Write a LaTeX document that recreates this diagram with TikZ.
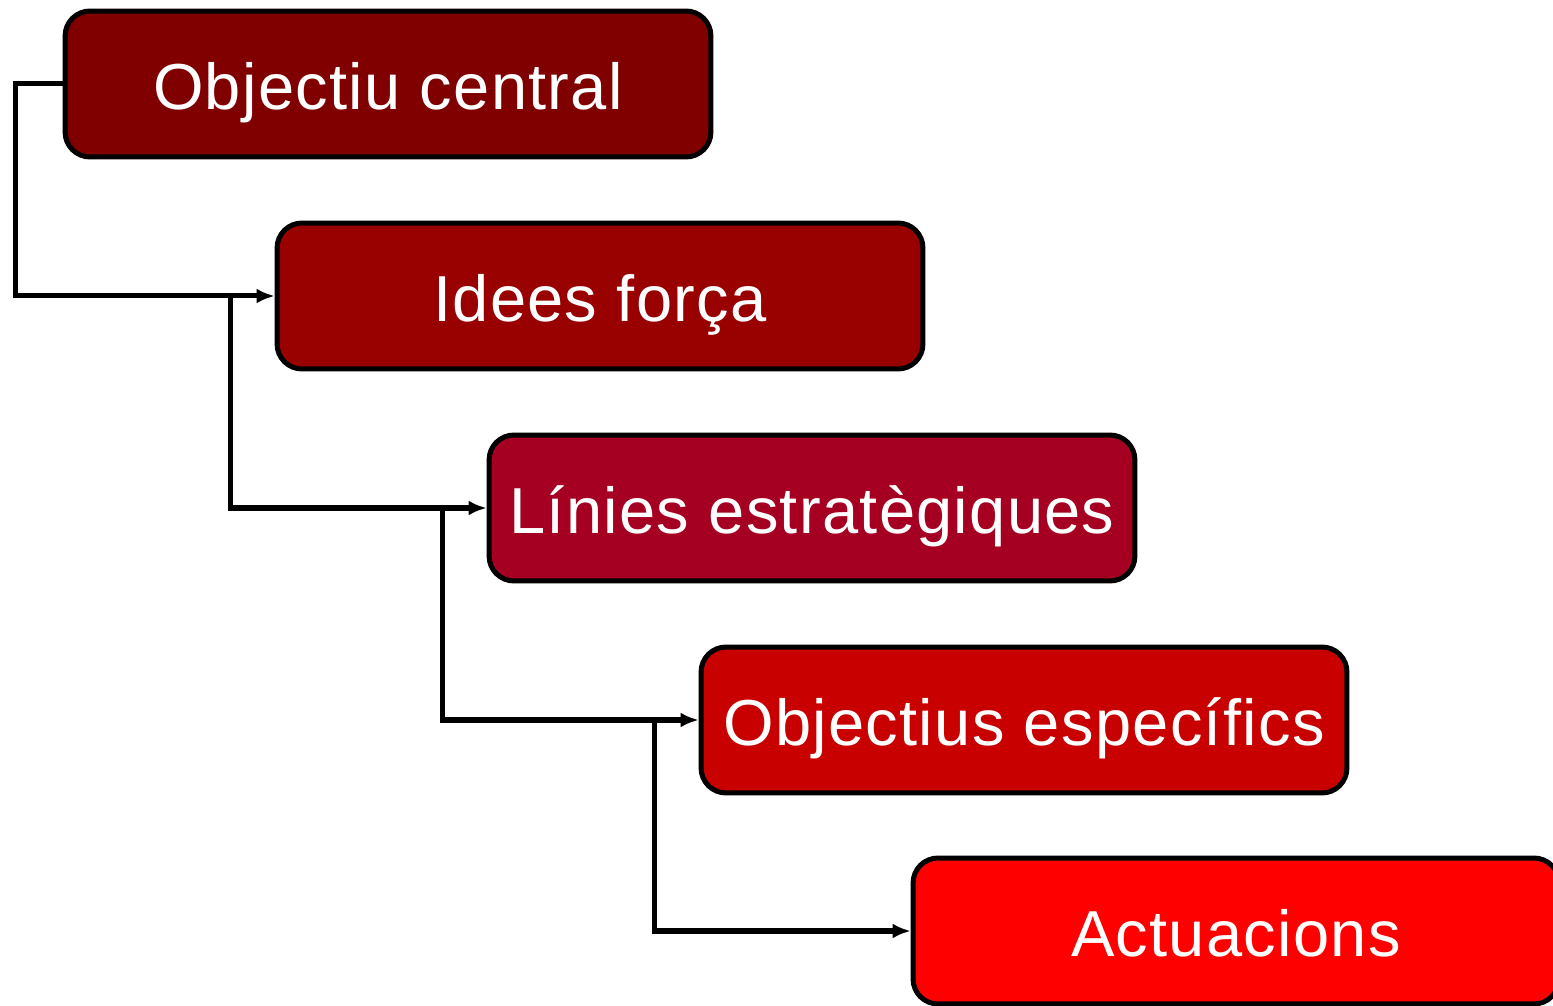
\documentclass[tikz,border=0pt]{standalone}
\usepackage{fontspec}
\setmainfont[LetterSpace=2]{Liberation Sans}
\usetikzlibrary{arrows.meta}
\definecolor{boxa}{HTML}{800000}
\definecolor{boxb}{HTML}{990000}
\definecolor{boxc}{HTML}{A50021}
\definecolor{boxd}{HTML}{C80000}
\definecolor{boxe}{HTML}{FF0000}
\tikzset{
  level/.style={draw=black, line width=2.85pt, rounded corners=0.5cm,
    minimum width=12.92cm, minimum height=2.92cm, text=white,
    text height=1.04cm, text depth=0cm,
    font=\fontsize{37}{40}\selectfont},
  conn/.style={line width=2.85pt, -{Latex[length=0.36cm, width=0.3cm]}}
}
\begin{document}
\begin{tikzpicture}[x=0.02cm, y=-0.02cm]
\useasboundingbox (0,0) rectangle (1553,1006);
\clip (0,0) rectangle (1553,1006);
\node[level, fill=boxa] (C) at (388,84) {Objectiu central};
\node[level, fill=boxb] (I) at (600,296) {Idees força};
\node[level, fill=boxc] (L) at (812,508) {Línies estratègiques};
\node[level, fill=boxd] (O) at (1024,720) {Objectius específics};
\node[level, fill=boxe] (A) at (1236,931) {Actuacions};
\draw [conn] (C.west) -- ++(-47,0) |- (I.west);
\draw [conn] ([xshift=-0.88cm]I.west) |- (L.west);
\draw [conn] ([xshift=-0.88cm]L.west) |- (O.west);
\draw [conn] ([xshift=-0.88cm]O.west) |- (A.west);
\end{tikzpicture}
\end{document}
